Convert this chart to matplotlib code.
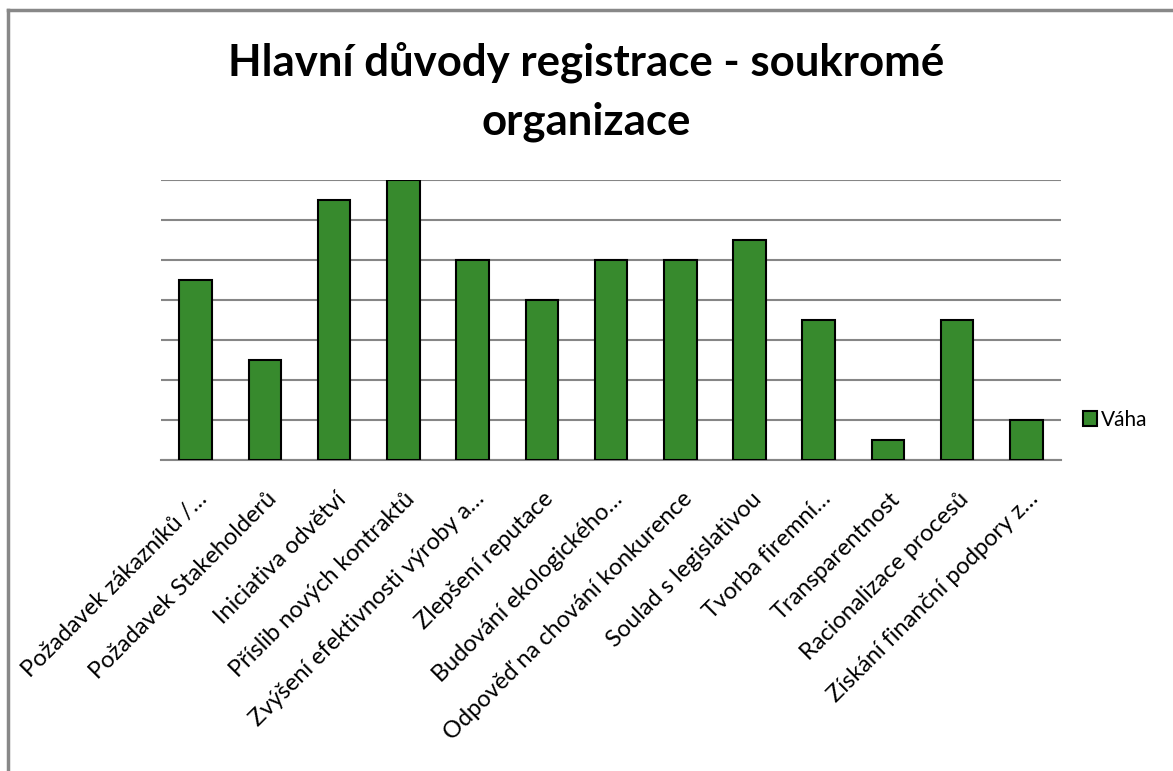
import numpy as np
import matplotlib
matplotlib.use("Agg")
import matplotlib.pyplot as plt
import matplotlib.transforms as mtransforms
from matplotlib.patches import Patch

categories = [
    "Požadavek zákazníků /…",
    "Požadavek Stakeholderů",
    "Iniciativa odvětví",
    "Příslib nových kontraktů",
    "Zvýšení efektivnosti výroby a…",
    "Zlepšení reputace",
    "Budování ekologického…",
    "Odpověď na chování konkurence",
    "Soulad s legislativou",
    "Tvorba firemní…",
    "Transparentnost",
    "Racionalizace procesů",
    "Získání finanční podpory z…",
]
vaha = [4.5, 2.5, 6.5, 7, 5, 4, 5, 5, 5.5, 3.5, 0.5, 3.5, 1]

plt.rcParams['font.family'] = ['Lato', 'DejaVu Sans']

fig = plt.figure(figsize=(11.73, 7.71), dpi=100)
W, H = 1173, 771

# chart border (cropped on the right and bottom like the original)
fig.add_artist(plt.Line2D([8 / W, 8 / W], [0, 1 - 10 / H], color='#888888', lw=2.5))
fig.add_artist(plt.Line2D([8 / W, 1], [1 - 10 / H, 1 - 10 / H], color='#888888', lw=2.5))

ax = fig.add_axes([161 / W, 1 - 460 / H, 900 / W, 280 / H])
x = np.arange(len(categories))
ax.bar(x, vaha, width=0.47, color='#378a2d', edgecolor='black', linewidth=1.5, zorder=3)
ax.set_xlim(-0.5, len(categories) - 0.5)
ax.set_ylim(0, 7)
ax.set_yticks(np.arange(0, 8, 1))
ax.yaxis.grid(True, color='#868686', linewidth=1.5, zorder=0)
ax.tick_params(axis='y', left=False, labelleft=False)
ax.tick_params(axis='x', length=0, pad=16)
for s in ['top', 'right', 'left']:
    ax.spines[s].set_visible(False)
ax.spines['bottom'].set_color('#868686')
ax.spines['bottom'].set_linewidth(1.5)
ax.set_xticks(x)
ax.set_xticklabels(categories, rotation=45, ha='right', rotation_mode='anchor', fontsize=17)
offset = mtransforms.ScaledTranslation(1 / 100, -6 / 100, fig.dpi_scale_trans)
for lbl in ax.get_xticklabels():
    lbl.set_transform(lbl.get_transform() + offset)

fig.text(0.5, 1 - 62 / H, "Hlavní důvody registrace - soukromé", ha='center', va='center',
         fontsize=31.5, fontweight='bold')
fig.text(0.5, 1 - 122 / H, "organizace", ha='center', va='center',
         fontsize=31.5, fontweight='bold')

leg = fig.legend(handles=[Patch(facecolor='#378a2d', edgecolor='black', linewidth=1.5, label='Váha')],
                 loc='center left', bbox_to_anchor=(1064 / W, 1 - 420 / H), frameon=False,
                 fontsize=15, handlelength=0.7, handleheight=0.7, handletextpad=0.15)

fig.savefig("out.png", dpi=100)
